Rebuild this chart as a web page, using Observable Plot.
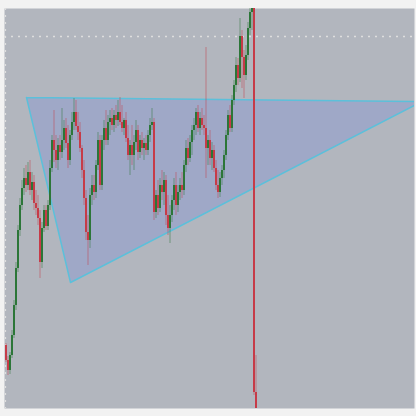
<!DOCTYPE html>
<html>
<head>
<meta charset="utf-8">
<script src="https://cdn.jsdelivr.net/npm/d3@7"></script>
<script src="https://cdn.jsdelivr.net/npm/@observablehq/plot@0.6"></script>
<style>
  html, body { margin: 0; padding: 0; background: #f2f2f2; }
  #chart svg { display: block; }
</style>
</head>
<body>
<div id="chart"></div>
<script>
// OHLC prices (arbitrary units), one candle per bar index
const open = [63,48,38,53,73,103,140,178,203,220,230,223,236,218,226,205,200,190,146,180,198,182,203,240,268,258,248,263,256,268,280,265,248,273,286,296,282,276,260,238,210,176,168,213,223,216,243,268,223,268,280,268,286,290,283,293,288,296,286,280,288,270,253,263,253,266,278,256,268,260,265,258,273,283,286,196,213,200,223,216,228,193,180,193,208,223,203,216,223,218,243,260,250,266,278,283,296,280,290,283,280,260,268,250,258,240,223,216,230,238,253,273,293,280,308,323,343,330,372,351,333,353,380,396,403,16];
const high = [65,52,56,78,108,146,183,210,228,240,243,246,248,236,233,218,213,198,186,203,203,208,248,273,298,273,270,273,300,288,290,283,278,296,310,308,296,286,263,248,218,193,220,233,233,248,276,273,273,288,298,293,298,300,298,303,308,311,303,290,296,283,268,283,273,288,283,273,276,270,273,278,290,300,290,218,228,230,238,236,233,213,203,213,230,236,223,230,236,248,268,270,273,283,290,300,303,296,300,293,361,273,278,266,263,248,238,236,243,258,278,298,303,313,328,351,350,390,378,358,363,386,408,413,413,53];
const low = [46,33,34,50,70,98,136,172,198,213,216,218,213,208,198,193,183,130,140,176,178,178,198,236,246,240,238,248,250,258,260,240,243,268,278,278,268,256,230,203,168,143,160,203,208,210,238,218,218,258,263,263,273,278,276,280,282,283,276,273,266,248,233,243,238,258,248,250,253,248,253,253,266,278,188,190,193,196,208,203,183,173,165,186,198,193,196,208,210,213,236,243,246,253,268,273,276,273,278,273,230,243,243,238,236,218,210,211,223,230,248,268,276,276,303,316,323,326,320,310,328,348,373,378,13,-12];
const close = [48,38,53,73,103,140,178,203,220,230,223,236,218,226,205,200,190,146,180,198,182,203,240,268,258,248,263,256,268,280,265,248,273,286,296,282,276,260,238,210,176,168,213,223,216,243,268,223,268,280,268,286,290,283,293,288,296,286,280,288,270,253,263,253,266,278,256,268,260,265,258,273,283,286,196,213,200,223,216,228,193,180,193,208,223,203,216,223,218,243,260,250,266,278,283,296,280,290,283,280,260,268,250,258,240,223,216,230,238,253,273,293,280,308,323,343,330,372,351,333,353,380,396,403,16,-7];

// Drawn triangle pattern (bar index, price)
const triangleX = [10.25, 32.25, 208.05, 10.25];
const triangleY = [311, 126, 307, 311];

// Reference lines
const levelPrice = 372;       // dotted horizontal level
const startBarX = -0.25;      // dashed vertical marker at left edge

const candles = open.map((o, i) => ({
  i, open: o, high: high[i], low: low[i], close: close[i],
  dir: close[i] >= o ? "up" : "down"
}));
const triangle = triangleX.map((x, k) => ({x, y: triangleY[k]}));

const chart = Plot.plot({
  width: 416,
  height: 416,
  marginTop: 8,
  marginBottom: 8,
  marginLeft: 4,
  marginRight: 2,
  style: {background: "transparent"},
  x: {domain: [-0.75, 204.25], axis: null},
  y: {domain: [0, 400], axis: null},
  color: {domain: ["up", "down"], range: ["#2c7638", "#c63b48"]},
  marks: [
    Plot.frame({fill: "#b2b6be", stroke: null}),
    Plot.line(triangle, {x: "x", y: "y", fill: "#9fa8c7", stroke: "#5cc0da", strokeWidth: 1.5, clip: true}),
    Plot.ruleY([levelPrice], {stroke: "#dedede", strokeWidth: 1.5, strokeDasharray: "2,5"}),
    Plot.ruleX([startBarX], {stroke: "#dedede", strokeWidth: 1.2, strokeDasharray: "2,5"}),
    Plot.ruleX(candles, {x: "i", y1: "low", y2: "high", stroke: "dir", strokeOpacity: 0.5, strokeWidth: 1, clip: true}),
    Plot.ruleX(candles, {x: "i", y1: "open", y2: "close", stroke: "dir", strokeWidth: 2, clip: true})
  ]
});
document.getElementById("chart").appendChild(chart);
</script>
</body>
</html>
